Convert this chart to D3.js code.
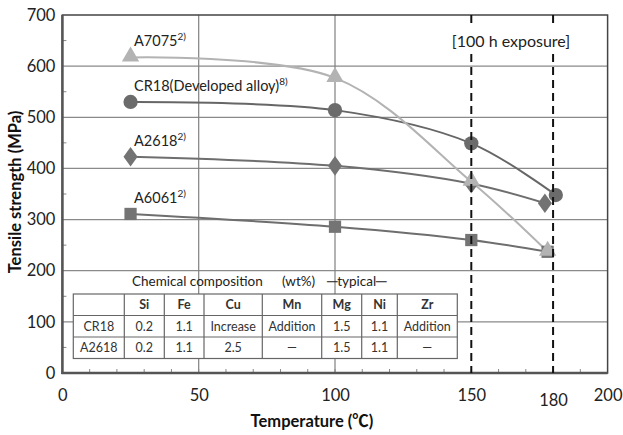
<!DOCTYPE html>
<html><head><meta charset="utf-8">
<script src="https://cdn.jsdelivr.net/npm/d3@7"></script>
<style>body{margin:0;background:#fff}svg{display:block;font-family:Lato,"Noto Sans CJK JP",sans-serif}</style>
</head><body><svg id="c" width="623" height="435"></svg>
<script>
const xTicks = [0, 50, 100, 150, 180, 200];
const yTicks = [0, 100, 200, 300, 400, 500, 600, 700];
const seriesNames = ["CR18", "A2618", "A6061", "A7075"];
const cr18X = [25, 100, 150, 181];
const cr18Y = [530, 514, 449, 348];
const a2618X = [25, 100, 150, 177];
const a2618Y = [423, 405, 370, 332];
const a6061X = [25, 100, 150, 178];
const a6061Y = [311, 286, 260, 237];
const a7075X = [25, 100, 150, 178];
const a7075Y = [617, 577, 374, 237];
const labelText = ["CR18(Developed alloy)", "A2618", "A6061", "A7075"];
const labelSup = ["8)", "2)", "2)", "2)"];
const labelY = [530, 423, 311, 617];
const tableCols = ["", "Si", "Fe", "Cu", "Mn", "Mg", "Ni", "Zr"];
const tableRow1 = ["CR18", "0.2", "1.1", "Increase", "Addition", "1.5", "1.1", "Addition"];
const tableRow2 = ["A2618", "0.2", "1.1", "2.5", "—", "1.5", "1.1", "—"];

const svg = d3.select("#c");
const x = d3.scaleLinear().domain([0, 200]).range([62.4, 607.6]);
const y = d3.scaleLinear().domain([0, 700]).range([373, 15]);

// gridlines
const g = svg.append("g");
g.selectAll("line.h").data([100,200,300,400,500,600]).join("line")
  .attr("x1", x(0)).attr("x2", x(200)).attr("y1", d=>y(d)).attr("y2", d=>y(d))
  .attr("stroke", "#8a8a8a").attr("stroke-width", 1.2);
g.selectAll("line.v").data([50,100]).join("line")
  .attr("y1", y(0)).attr("y2", y(700)).attr("x1", d=>x(d)).attr("x2", d=>x(d))
  .attr("stroke", "#808080").attr("stroke-width", 1.2);

// minor ticks
g.selectAll("line.my").data(d3.range(50, 700, 100)).join("line")
  .attr("x1", x(0)).attr("x2", x(0)+4).attr("y1", d=>y(d)).attr("y2", d=>y(d))
  .attr("stroke", "#888").attr("stroke-width", 1);
g.selectAll("line.mx").data(d3.range(10, 200, 10)).join("line")
  .attr("x1", d=>x(d)).attr("x2", d=>x(d)).attr("y1", y(0)).attr("y2", y(0)-4)
  .attr("stroke", "#888").attr("stroke-width", 1);

// frame
svg.append("rect").attr("x", x(0)).attr("y", y(700)).attr("width", x(200)-x(0)).attr("height", y(0)-y(700))
  .attr("fill", "none").attr("stroke", "#444").attr("stroke-width", 1.5);
svg.append("line").attr("x1", x(0)).attr("x2", x(0)).attr("y1", y(700)).attr("y2", y(0)+1)
  .attr("stroke", "#555").attr("stroke-width", 2.5);
svg.append("line").attr("x1", x(0)-1).attr("x2", x(200)).attr("y1", y(0)).attr("y2", y(0))
  .attr("stroke", "#555").attr("stroke-width", 2.5);

// axes labels via d3 axes
const yAxis = svg.append("g").attr("transform", `translate(${x(0)-7},0)`)
  .call(d3.axisLeft(y).tickValues(yTicks).tickSize(0).tickPadding(0));
yAxis.select(".domain").remove();
yAxis.selectAll("text").attr("font-size", 16.5).attr("fill", "#222").attr("font-family", "Lato, sans-serif");

const xAxis = svg.append("g").attr("transform", `translate(0,${y(0)+16})`)
  .call(d3.axisBottom(x).tickValues(xTicks).tickSize(0).tickPadding(0));
xAxis.select(".domain").remove();
xAxis.selectAll("text").attr("font-size", 16.5).attr("fill", "#222").attr("font-family", "Lato, sans-serif")
  .attr("dy", d => d === 180 ? "1.0em" : "0.75em");

svg.append("text").attr("transform", `translate(21,${192}) rotate(-90)`).attr("text-anchor", "middle")
  .attr("font-size", 16.5).attr("font-weight", "bold").attr("fill", "#111").text("Tensile strength  (MPa)");
svg.append("text").attr("x", 312).attr("y", 427).attr("text-anchor", "middle")
  .attr("font-size", 16.5).attr("font-weight", "bold").attr("fill", "#111").text("Temperature  (℃)");

// series
const data = [
  {name: "CR18", xs: cr18X, ys: cr18Y, color: "#6b6b6b", line: "#666", shape: d3.symbolCircle, size: 160},
  {name: "A2618", xs: a2618X, ys: a2618Y, color: "#737373", line: "#6e6e6e", shape: d3.symbolDiamond, size: 110},
  {name: "A6061", xs: a6061X, ys: a6061Y, color: "#747474", line: "#6e6e6e", shape: d3.symbolSquare, size: 150},
  {name: "A7075", xs: a7075X, ys: a7075Y, color: "#b3b3b3", line: "#b3b3b3", shape: d3.symbolTriangle, size: 130}
];
const line = d3.line().x(d=>x(d[0])).y(d=>y(d[1])).curve(d3.curveCatmullRom.alpha(0.5));
data.forEach(s => {
  const pts = s.xs.map((v,i)=>[v, s.ys[i]]);
  svg.append("path").attr("d", line(pts)).attr("fill", "none").attr("stroke", s.line).attr("stroke-width", 2);
});
data.forEach(s => {
  const pts = s.xs.map((v,i)=>[v, s.ys[i]]);
  svg.selectAll(null).data(pts).join("path")
    .attr("transform", d => `translate(${x(d[0])},${y(d[1]) + (s.shape===d3.symbolTriangle? -1:0)})` + (s.shape===d3.symbolDiamond? " scale(1.25,1)" : ""))
    .attr("d", d3.symbol(s.shape, s.size)).attr("fill", s.color);
});

// series labels
seriesNames.forEach((n, i) => {
  const t = svg.append("text").attr("x", 134).attr("y", y(labelY[i]) - 11)
    .attr("font-size", 14.5).attr("fill", "#222");
  t.append("tspan").text(labelText[i]);
  t.append("tspan").attr("font-size", 10).attr("dy", -6).text(labelSup[i]);
});

// dashed lines
[150, 180].forEach(v => {
  svg.append("line").attr("x1", x(v)).attr("x2", x(v)).attr("y1", y(700)).attr("y2", y(0))
    .attr("stroke", "#111").attr("stroke-width", 2).attr("stroke-dasharray", "8,5");
});
svg.append("rect").attr("x", 447).attr("y", 27).attr("width", 130).attr("height", 27).attr("fill", "#fff");
svg.append("text").attr("x", 511).attr("y", 47).attr("text-anchor", "middle")
  .attr("font-size", 16).attr("fill", "#222").text("[100 h exposure]");

// table
const colX = [73.3, 124.3, 164.3, 204, 262.3, 321.7, 361.7, 397.3, 457.3];
const rowY = [294, 315.5, 337, 358.5];
const tg = svg.append("g");
tg.append("rect").attr("x", colX[0]).attr("y", rowY[0]).attr("width", colX[8]-colX[0]).attr("height", rowY[3]-rowY[0])
  .attr("fill", "#fff").attr("stroke", "#666").attr("stroke-width", 1.2);
colX.slice(1, 8).forEach(cx => tg.append("line").attr("x1", cx).attr("x2", cx).attr("y1", rowY[0]).attr("y2", rowY[3]).attr("stroke", "#666").attr("stroke-width", 1.2));
rowY.slice(1, 3).forEach(ry => tg.append("line").attr("x1", colX[0]).attr("x2", colX[8]).attr("y1", ry).attr("y2", ry).attr("stroke", "#666").attr("stroke-width", 1.2));
[tableCols, tableRow1, tableRow2].forEach((row, r) => {
  row.forEach((c, i) => {
    tg.append("text").attr("x", (colX[i]+colX[i+1])/2).attr("y", (rowY[r]+rowY[r+1])/2 + 4.5)
      .attr("text-anchor", "middle").attr("font-size", 12.5).attr("fill", "#333")
      .attr("font-weight", r===0 ? "bold" : "normal").text(c);
  });
});
svg.append("text").attr("x", 132).attr("y", 286).attr("font-size", 13.5).attr("fill", "#222").text("Chemical composition");
svg.append("text").attr("x", 282).attr("y", 286).attr("font-size", 13.5).attr("fill", "#222").text("(wt%)");
svg.append("text").attr("x", 327).attr("y", 286).attr("font-size", 13.5).attr("fill", "#222").text("─typical─");
</script></body></html>
